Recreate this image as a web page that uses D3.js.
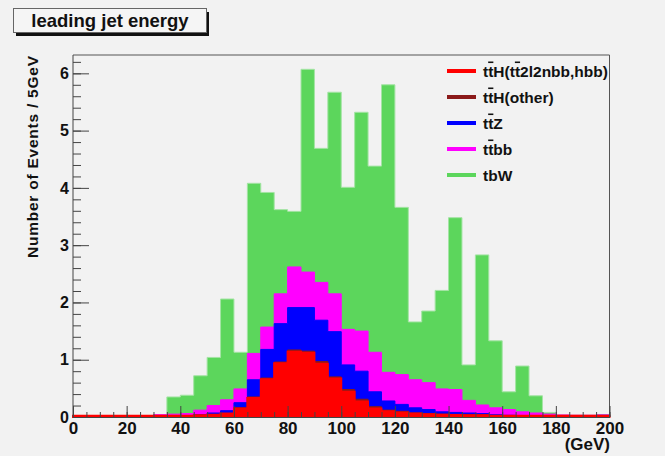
<!DOCTYPE html>
<html>
<head>
<meta charset="utf-8">
<script src="https://cdn.jsdelivr.net/npm/d3@7"></script>
<style>
  body { margin: 0; background: #f2f2f2; }
  svg { display: block; }
  text { font-family: "Liberation Sans", Arial, sans-serif; font-weight: bold; fill: #111; }
</style>
</head>
<body>
<svg id="chart" width="665" height="456"></svg>
<script>
// bins are 5 GeV wide, 0 - 200 GeV
var binLow = d3.range(0, 200, 5);

// per-sample contents (not cumulative), stacked bottom -> top
var ttH_sig = [0.02,0.02,0.02,0.02,0.02,0.02, 0.02,0.02,0.02,0.03,0.04,0.06,
               0.15,0.33,0.66,0.94,1.14,1.12,0.93,0.67,
               0.44,0.27,0.15,0.10,0.08,0.06,0.05,0.04,0.035,0.03,
               0.03,0.02,0.02,0.02,0.02,0.02,0.02,0.02,0.02,0.02];
var ttH_other = [0,0,0,0,0,0, 0,0,0,0,0,0,
                 0.01,0.02,0.02,0.02,0.03,0.03,0.04,0.03,
                 0.04,0.04,0.03,0.02,0.02,0.01,0.01,0.01,0.01,0.01,
                 0.01,0,0,0,0,0,0,0,0,0];
var ttZ = [0,0,0,0,0,0, 0,0,0.005,0.01,0.03,0.05,
           0.09,0.30,0.50,0.67,0.74,0.76,0.72,0.79,
           0.43,0.49,0.26,0.16,0.12,0.09,0.07,0.04,0.035,0.03,
           0.02,0.02,0.01,0.005,0.005,0.005,0.005,0.005,0.005,0.01];
var ttbb = [0,0,0,0,0,0, 0.02,0.03,0.035,0.08,0.13,0.19,
            0.24,0.46,0.39,0.52,0.71,0.62,0.66,0.66,
            0.62,0.70,0.69,0.50,0.52,0.49,0.47,0.40,0.40,0.22,
            0.15,0.12,0.10,0.065,0.045,0.025,0.01,0.005,0.005,0.005];
var tbW = [0,0,0,0,0,0, 0,0.30,0.32,0.60,0.84,1.76,
           0.64,2.97,2.35,1.47,0.97,3.54,2.34,3.52,
           2.48,3.82,3.25,5.02,2.92,1.01,1.25,1.72,3.00,0.62,
           2.62,1.17,0.31,0.80,0.30,0.03,0,0,0,0];

var sampleKeys = ['sig', 'other', 'ttZ', 'ttbb', 'tbW'];
var sampleColors = ['#ff0000', '#8b1a1a', '#0000ff', '#ff00ff', '#5cd65c'];
// U+0305 after a letter marks an overline (t-bar)
var legendLabels = ['tt\u0305H(tt\u03052l2nbb,hbb)', 'tt\u0305H(other)', 'tt\u0305Z', 'tt\u0305bb', 'tbW'];

var xTicks = d3.range(0, 201, 20);
var xMinor = d3.range(0, 201, 5);
var yTicks = [0, 1, 2, 3, 4, 5, 6];
var yMinor = d3.range(0, 6.3, 0.2);

var svg = d3.select('#chart');
var W = 665, H = 456;
var frameL = 73, frameR = 609.5, frameT = 55, frameB = 417;

svg.append('rect').attr('width', W).attr('height', H).attr('fill', '#f2f2f2');

var x = d3.scaleLinear().domain([0, 200]).range([frameL, frameR]);
var y = d3.scaleLinear().domain([0, 6.32]).range([frameB, frameT]);

var table = binLow.map(function(lo, i) {
  return {lo: lo, sig: ttH_sig[i], other: ttH_other[i], ttZ: ttZ[i], ttbb: ttbb[i], tbW: tbW[i]};
});
var series = d3.stack().keys(sampleKeys)(table);

// draw like THStack: each cumulative histogram filled from zero, top one first
var area = d3.area()
  .curve(d3.curveStepAfter)
  .x(function(d) { return x(d.lo); })
  .y0(y(0))
  .y1(function(d) { return y(d.top); });

var hist = svg.append('g');
series.slice().reverse().forEach(function(s) {
  var idx = sampleKeys.indexOf(s.key);
  var pts = s.map(function(d, i) { return {lo: binLow[i], top: d[1]}; });
  pts.push({lo: 200, top: pts[pts.length - 1].top});
  hist.append('path')
    .attr('d', area(pts))
    .attr('fill', sampleColors[idx])
    .attr('stroke', s.key === 'tbW' ? '#a4e4a4' : sampleColors[idx])
    .attr('stroke-width', s.key === 'sig' ? 2 : 1);
});

// frame (top / right)
svg.append('path')
  .attr('d', 'M' + frameL + ',' + frameT + 'H' + frameR + 'V' + frameB)
  .attr('fill', 'none').attr('stroke', '#555').attr('stroke-width', 1);

// y axis
var gy = svg.append('g').attr('transform', 'translate(' + frameL + ',0)')
  .call(d3.axisLeft(y).tickValues(yTicks).tickSize(-16).tickSizeOuter(0).tickPadding(4).tickFormat(d3.format('d')));
svg.append('g').attr('transform', 'translate(' + frameL + ',0)')
  .call(d3.axisLeft(y).tickValues(yMinor).tickSize(-8).tickSizeOuter(0).tickFormat(''))
  .select('.domain').remove();
gy.select('.domain').attr('d', 'M0,' + frameT + 'V' + frameB);

// x axis
var gx = svg.append('g').attr('transform', 'translate(0,' + frameB + ')')
  .call(d3.axisBottom(x).tickValues(xTicks).tickSize(-11).tickSizeOuter(0).tickPadding(5).tickFormat(d3.format('d')));
svg.append('g').attr('transform', 'translate(0,' + frameB + ')')
  .call(d3.axisBottom(x).tickValues(xMinor).tickSize(-5).tickSizeOuter(0).tickFormat(''))
  .select('.domain').remove();

svg.selectAll('.tick line, .domain').attr('stroke', '#444');
gy.selectAll('text').attr('font-size', 16);
gx.selectAll('text').attr('font-size', 17);
svg.selectAll('g').attr('font-family', null).attr('font-size', null);

// axis titles
svg.append('text')
  .attr('x', 610).attr('y', 450)
  .attr('text-anchor', 'end').attr('font-size', 17)
  .text('(GeV)');
svg.append('text')
  .attr('transform', 'translate(38,' + 56 + ') rotate(-90)')
  .attr('text-anchor', 'end').attr('font-size', 15.5)
  .attr('textLength', 202).attr('lengthAdjust', 'spacing')
  .text('Number of Events / 5GeV');

// title box
svg.append('rect').attr('x', 16).attr('y', 12).attr('width', 193).attr('height', 24).attr('fill', '#111');
svg.append('rect').attr('x', 13.5).attr('y', 8.5).attr('width', 193).attr('height', 24)
  .attr('fill', '#f5f5f5').attr('stroke', '#666');
svg.append('text')
  .attr('x', 110).attr('y', 27)
  .attr('text-anchor', 'middle').attr('font-size', 18.5)
  .text('leading jet energy');

// legend
function addLabel(sel, label) {
  var parts = [];
  for (var i = 0; i < label.length; i++) {
    if (label[i + 1] === '\u0305') { parts.push({t: label[i], bar: true}); i++; }
    else parts.push({t: label[i], bar: false});
  }
  parts.forEach(function(p) {
    sel.append('tspan').text(p.t)
      .style('text-decoration', p.bar ? 'overline' : null);
  });
}
var legend = svg.append('g');
legendLabels.forEach(function(lab, i) {
  var ly = 71 + i * 26;
  legend.append('line')
    .attr('x1', 447).attr('x2', 476).attr('y1', ly).attr('y2', ly)
    .attr('stroke', sampleColors[i]).attr('stroke-width', 4);
  var t = legend.append('text')
    .attr('x', 483).attr('y', ly + 5.5).attr('font-size', 15.5);
  addLabel(t, lab);
});
</script>
</body>
</html>
